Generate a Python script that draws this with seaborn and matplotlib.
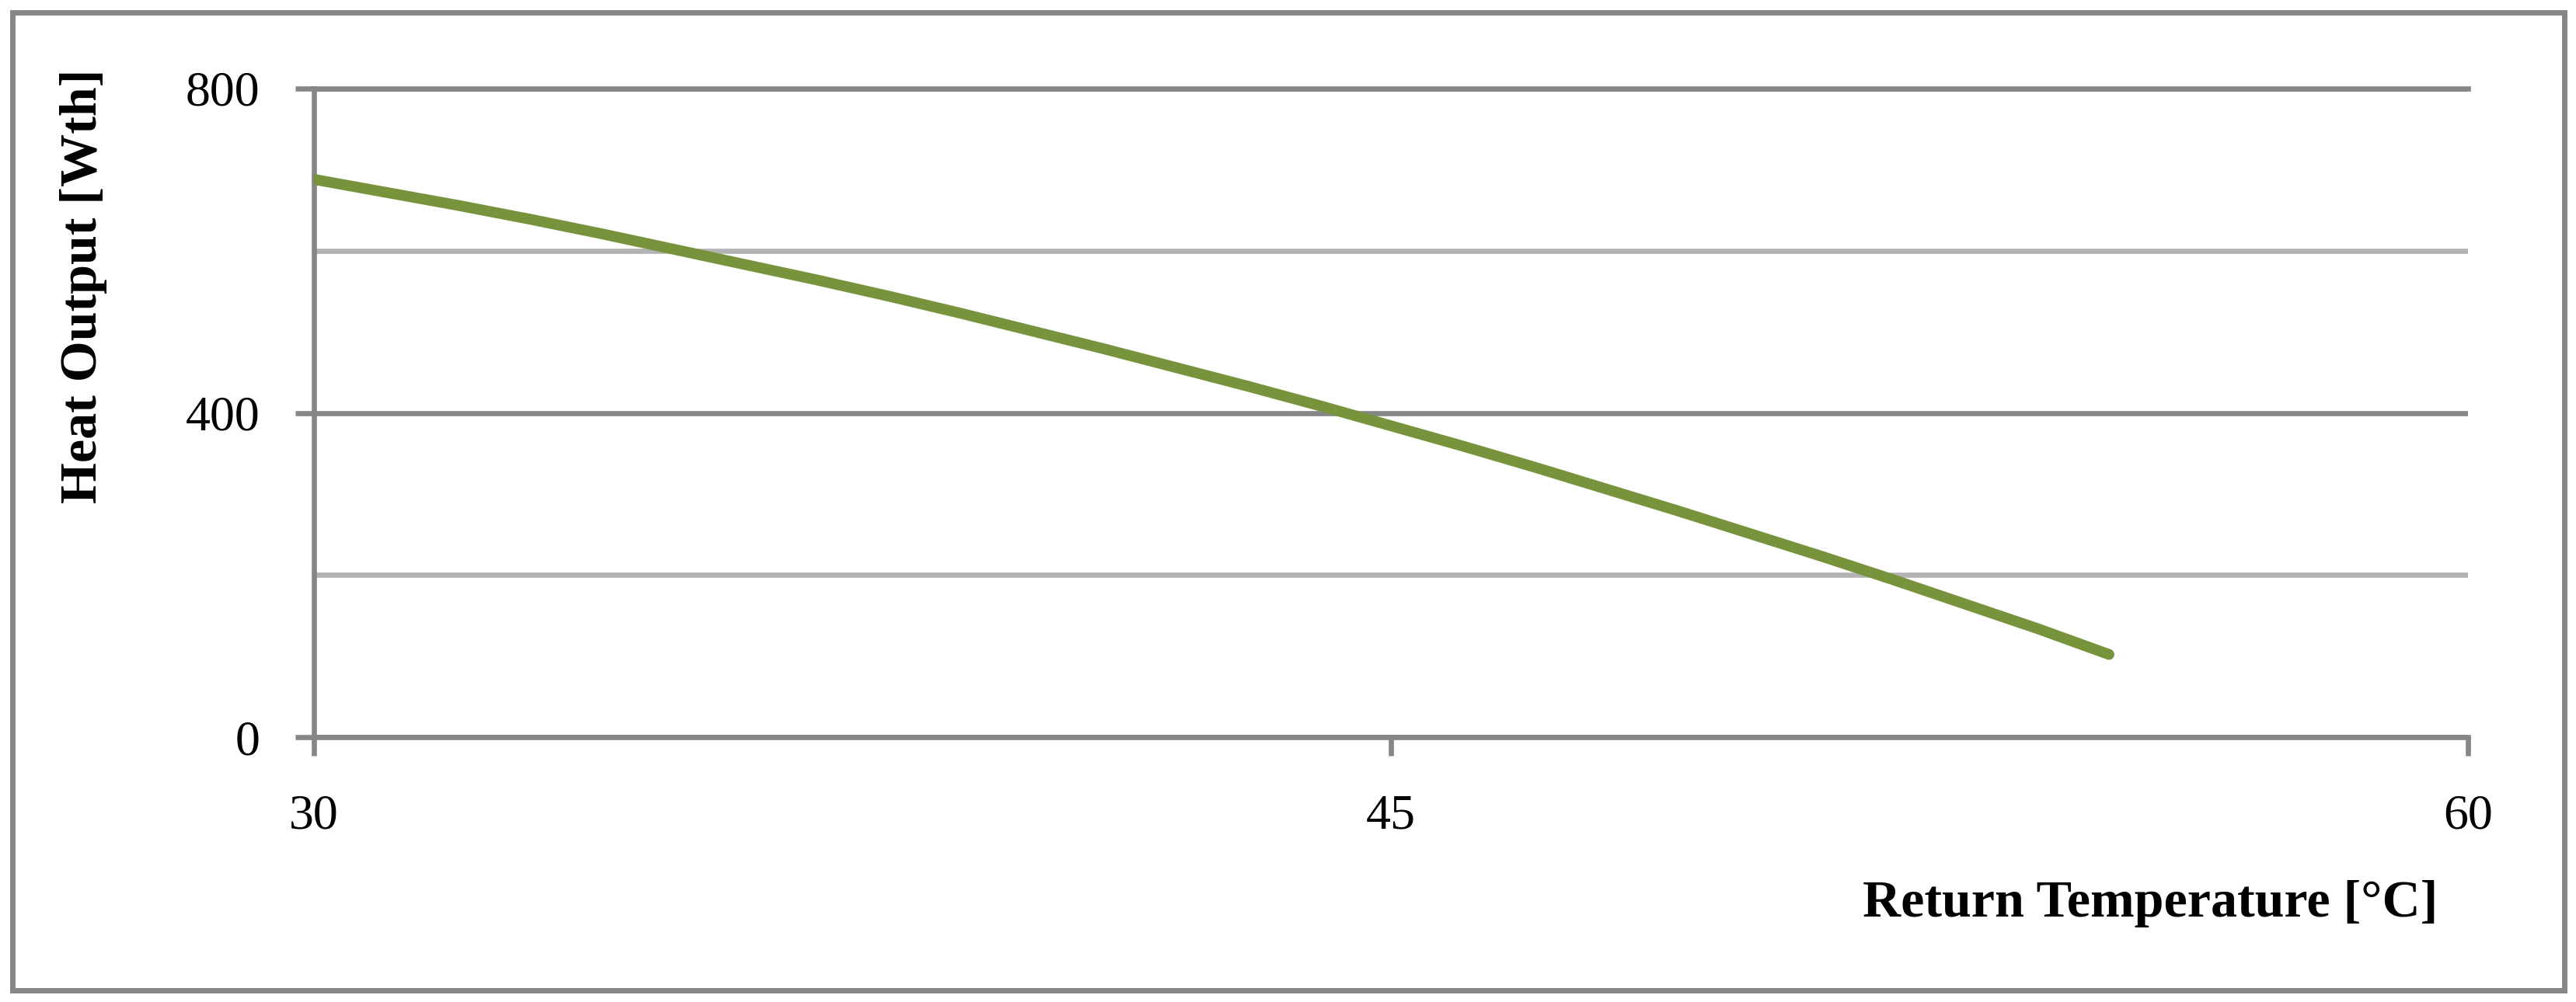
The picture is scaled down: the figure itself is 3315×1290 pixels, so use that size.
import numpy as np
import pandas as pd
import matplotlib
matplotlib.use("Agg")
import matplotlib.pyplot as plt
from matplotlib.patches import Rectangle
from matplotlib.ticker import FixedLocator
import seaborn as sns

# ---- data ----
return_temp = [30, 31, 32, 33, 34, 35, 36, 37, 38, 39, 40, 41, 42,
               43, 44, 45, 46, 47, 48, 49, 50, 51, 52, 53, 54, 55]
heat_output = [688, 672, 656, 639, 621, 602, 583, 564, 544, 523, 501, 479, 456,
               433, 409, 384, 359, 333, 306, 279, 251, 223, 194, 164, 134, 102]
x_ticks = [30, 45, 60]
y_major = [0, 400, 800]
y_minor = [200, 600]
x_label = "Return Temperature [°C]"
y_label = "Heat Output [Wth]"

df = pd.DataFrame({"T": return_temp, "Q": heat_output})

sns.set_style("white")
plt.rcParams["font.family"] = ["Liberation Serif", "DejaVu Serif"]
plt.rcParams["text.color"] = "black"

DARK = "#868686"
LIGHT = "#b3b3b3"
GREEN = "#77933C"
LW = 4.8

W, H = 3315, 1290
fig = plt.figure(figsize=(W / 100, H / 100), dpi=100)
ax = fig.add_axes([404 / W, 1 - 949 / H, (3176 - 404) / W, (949 - 114) / H])

sns.lineplot(data=df, x="T", y="Q", ax=ax, color=GREEN, linewidth=10,
             solid_capstyle="round", zorder=5)

ax.set_xlim(30, 60)
ax.set_ylim(0, 800)
ax.xaxis.set_major_locator(FixedLocator(x_ticks))
ax.yaxis.set_major_locator(FixedLocator(y_major))
ax.yaxis.set_minor_locator(FixedLocator(y_minor))

ax.grid(False)
ax.yaxis.grid(True, which="major", color=DARK, linewidth=LW)
ax.yaxis.grid(True, which="minor", color=LIGHT, linewidth=LW)
ax.set_axisbelow(True)

for side in ["left", "bottom", "top"]:
    ax.spines[side].set_visible(True)
    ax.spines[side].set_color(DARK)
    ax.spines[side].set_linewidth(LW)
ax.spines["right"].set_visible(False)

ax.tick_params(axis="y", which="major", direction="out", length=17, width=LW,
               color=DARK, pad=33, labelsize=46, labelcolor="black", left=True)
ax.tick_params(axis="y", which="minor", length=0)
ax.tick_params(axis="x", which="major", direction="out", length=17, width=LW,
               color=DARK, pad=36, labelsize=46, labelcolor="black", bottom=True)

ax.set_xlabel("")
ax.set_ylabel("")

fig.text(3137 / W, 1 - 1180 / H, x_label, ha="right", va="baseline",
         fontsize=49, fontweight="bold", color="black")
fig.text(108 / W, 1 - 368 / H, y_label, ha="center", va="center",
         rotation=90, fontsize=49, fontweight="bold", color="black")

# outer frame
fig.patches.append(Rectangle((16 / W, 1 - 1275 / H), (3300 - 16) / W, (1275 - 16) / H,
                             transform=fig.transFigure, fill=False,
                             edgecolor=DARK, linewidth=5, zorder=0))

fig.savefig("out.png", dpi=100, facecolor="white")
